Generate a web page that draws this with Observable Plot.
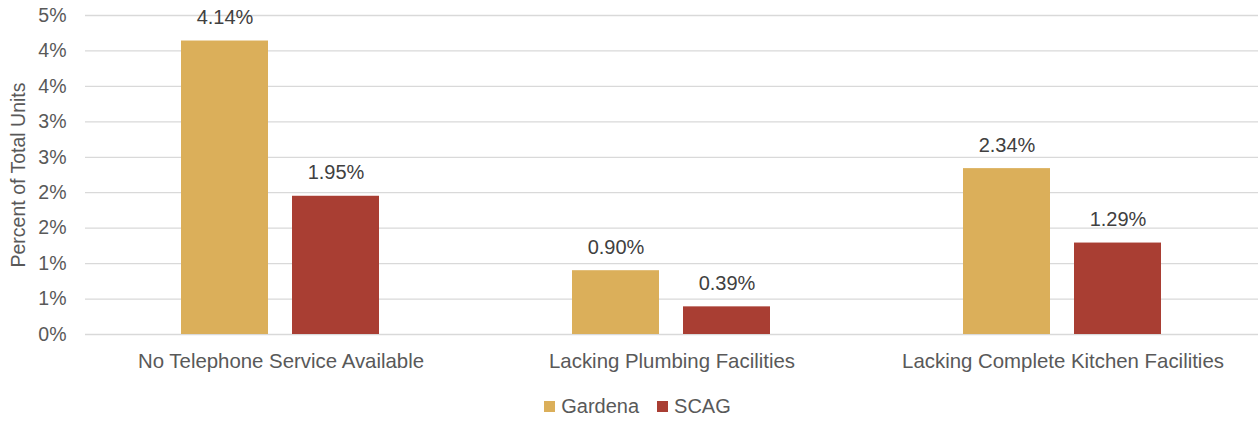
<!DOCTYPE html>
<html>
<head>
<meta charset="utf-8">
<script src="https://cdn.jsdelivr.net/npm/d3@7"></script>
<script src="https://cdn.jsdelivr.net/npm/@observablehq/plot@0.6"></script>
<style>
  html, body { margin: 0; padding: 0; background: #fff; }
  body { width: 1259px; height: 421px; overflow: hidden; font-family: "Liberation Sans", Arial, sans-serif; }
  #legend { display: flex; justify-content: center; align-items: center; height: 30px; padding-top: 8px; padding-left: 16px; font-size: 20px; color: #595959; }
  #legend .item { display: flex; align-items: center; margin: 0 9px; }
  #legend .sw { width: 11px; height: 11px; margin-right: 6px; }
</style>
</head>
<body>
<div id="chart"></div>
<div id="legend"></div>
<script>
const categories = ["No Telephone Service Available", "Lacking Plumbing Facilities", "Lacking Complete Kitchen Facilities"];
const series = ["Gardena", "SCAG"];
const gardenaValues = [4.14, 0.90, 2.34];
const scagValues = [1.95, 0.39, 1.29];
const seriesColors = ["#DBAF5A", "#A93E33"];
const yTicks = [0, 0.5, 1, 1.5, 2, 2.5, 3, 3.5, 4, 4.5];
const yTickLabels = ["0%", "1%", "1%", "2%", "2%", "3%", "3%", "4%", "4%", "5%"];
const yTitle = "Percent of Total Units";

const data = [];
categories.forEach((c, i) => {
  data.push({category: c, series: series[0], value: gardenaValues[i]});
  data.push({category: c, series: series[1], value: scagValues[i]});
});

const chart = Plot.plot({
  width: 1259,
  height: 383,
  marginTop: 15,
  marginBottom: 49,
  marginLeft: 85,
  marginRight: 1,
  style: {fontFamily: "Liberation Sans, Arial, sans-serif", color: "#595959", background: "#fff"},
  fx: {domain: categories, padding: 0},
  x: {domain: series, paddingInner: 0.214, paddingOuter: 0.853, axis: null},
  y: {domain: [0, 4.5]},
  color: {domain: series, range: seriesColors},
  marks: [
    Plot.gridY(yTicks, {stroke: "#d9d9d9", strokeOpacity: 1, strokeWidth: 1.3}),
    Plot.barY(data, {fx: "category", x: "series", y: "value", fill: "series"}),
    Plot.text(data, {fx: "category", x: "series", y: "value", text: d => d.value.toFixed(2) + "%", lineAnchor: "bottom", dy: -17, fontSize: 20, fill: "#404040"}),
    Plot.axisY(yTicks, {tickSize: 0, tickPadding: 19, fontSize: 19.5, tickFormat: d => yTickLabels[yTicks.indexOf(d)], label: yTitle, labelAnchor: "center", labelOffset: 74, labelArrow: "none"}),
    Plot.axisFx({anchor: "bottom", tickSize: 0, tickPadding: 19, fontSize: 20.4, label: null})
  ]
});
document.getElementById("chart").appendChild(chart);

const legend = document.getElementById("legend");
series.forEach((s, i) => {
  const item = document.createElement("div");
  item.className = "item";
  const sw = document.createElement("span");
  sw.className = "sw";
  sw.style.background = seriesColors[i];
  const t = document.createElement("span");
  t.textContent = s;
  item.appendChild(sw);
  item.appendChild(t);
  legend.appendChild(item);
});
</script>
</body>
</html>
